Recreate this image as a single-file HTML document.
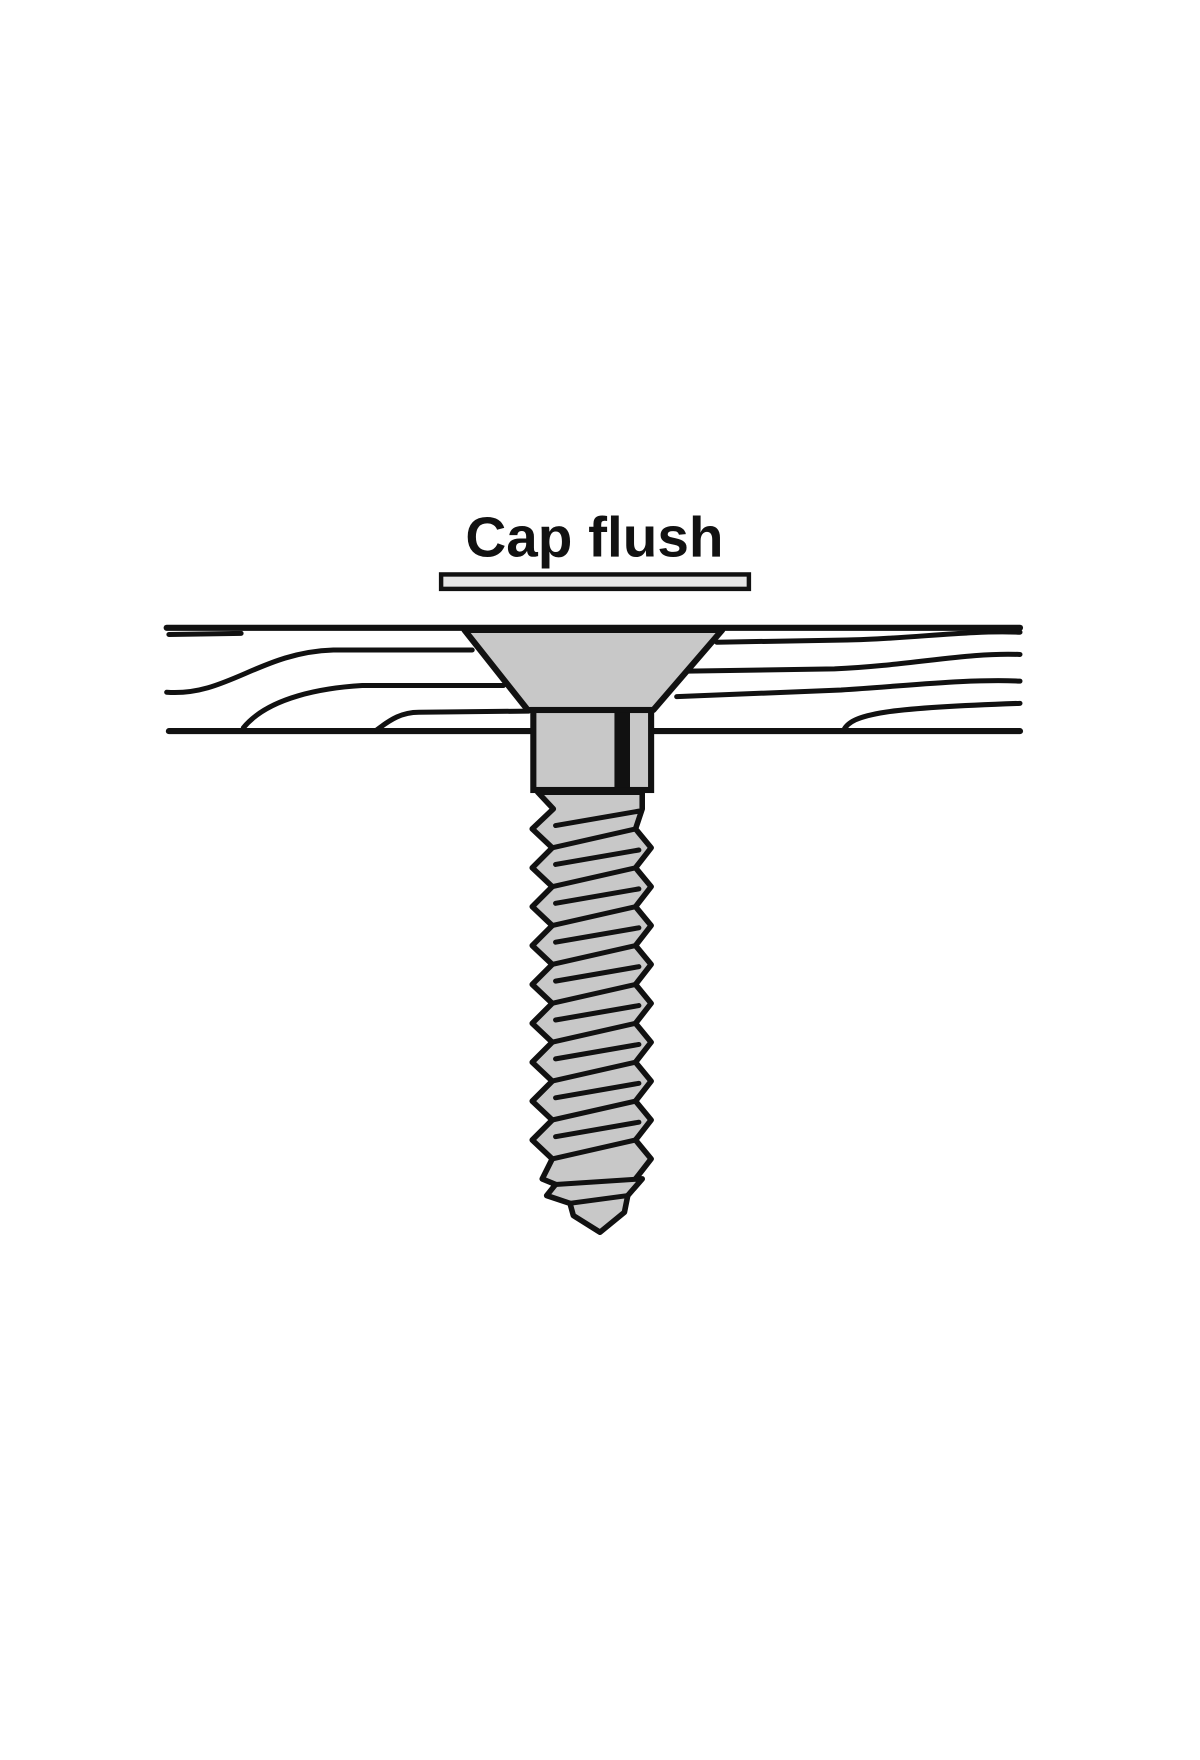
<!DOCTYPE html>
<html><head><meta charset="utf-8"><style>
html,body{margin:0;padding:0;background:#fff;width:1200px;height:1760px;overflow:hidden}
svg{display:block}
</style></head><body>
<svg width="1200" height="1760" viewBox="0 0 1080 1584" xmlns="http://www.w3.org/2000/svg">
<text x="535" y="501" text-anchor="middle" font-family="Liberation Sans, sans-serif" font-weight="bold" font-size="51" fill="#111">Cap flush</text>
<rect x="397" y="517" width="277" height="13" fill="#e6e6e6" stroke="#111" stroke-width="4"/>
<g transform="translate(4,13)">
<g fill="none" stroke="#111" stroke-width="4.5" stroke-linecap="round">
<line x1="146" y1="552" x2="914" y2="552" stroke-width="5.5"/>
<line x1="148" y1="645" x2="914" y2="645" stroke-width="5.5"/>
<path d="M148 558 L213 557"/>
<path d="M146 610 C200 614 230 574 296 572 L421 572"/>
<path d="M215 642 C238 614 288 606 322 604 L449 604"/>
<path d="M335 644 C348 634 358 628 373 628 L472 627"/>
<path d="M641 565 L758 563 C816 562 866 554 914 556"/>
<path d="M615 591 L747 589 C816 586 866 574 914 576"/>
<path d="M605 614 L753 608 C816 604 866 598 914 600"/>
<path d="M755 645 C761 629 796 624 914 620"/>
</g>
<polygon points="414,554 646,554 584,626 471,626" fill="#c8c8c8" stroke="#111" stroke-width="5.5" stroke-linejoin="round"/>
<rect x="476" y="626" width="106" height="72" fill="#c8c8c8" stroke="#111" stroke-width="5.5"/>
<rect x="549" y="628" width="14" height="68" fill="#111"/>
<g transform="translate(0,0)">
<polygon fill="#c8c8c8" stroke="#111" stroke-width="5" stroke-linejoin="round" points="
480,700 494,715 475,733 493,750 475,768 493,785 475,803 493,820 475,838 493,855 475,873 493,890 475,908 493,925 475,943 493,960 475,978 493,995 475,1013 493,1030
484,1048 496,1053 488,1063 509,1070 512,1081 536,1096 558,1078 561,1063 574,1048
568,1048 582,1030 568,1013 582,995 568,978 582,960 568,943 582,925 568,908 582,890 568,873 582,855 568,838 582,820 568,803 582,785 568,768 582,750 568,733 574,715 574,700"/>
<g stroke="#111" stroke-width="4.5" stroke-linecap="round">
<line x1="493" y1="750" x2="568" y2="733"/><line x1="493" y1="785" x2="568" y2="768"/>
<line x1="493" y1="820" x2="568" y2="803"/><line x1="493" y1="855" x2="568" y2="838"/>
<line x1="493" y1="890" x2="568" y2="873"/><line x1="493" y1="925" x2="568" y2="908"/>
<line x1="493" y1="960" x2="568" y2="943"/><line x1="493" y1="995" x2="568" y2="978"/>
<line x1="493" y1="1030" x2="568" y2="1013"/><line x1="496" y1="1053" x2="574" y2="1048"/>
<line x1="509" y1="1070" x2="561" y2="1063"/>
<line x1="496" y1="730" x2="571" y2="717"/><line x1="496" y1="765" x2="571" y2="752"/>
<line x1="496" y1="800" x2="571" y2="787"/><line x1="496" y1="835" x2="571" y2="822"/>
<line x1="496" y1="870" x2="571" y2="857"/><line x1="496" y1="905" x2="571" y2="892"/>
<line x1="496" y1="940" x2="571" y2="927"/><line x1="496" y1="975" x2="571" y2="962"/>
<line x1="496" y1="1010" x2="571" y2="997"/>
</g>
</g>
</g>
</svg>
</body></html>
